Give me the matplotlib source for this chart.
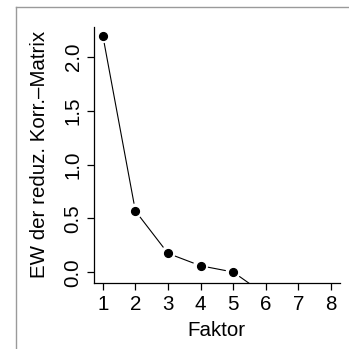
import numpy as np
import matplotlib
matplotlib.use("Agg")
import matplotlib.pyplot as plt
from matplotlib.lines import Line2D

faktor = [1, 2, 3, 4, 5, 6, 7, 8]
eigenwerte = [2.195, 0.569, 0.176, 0.061, 0.003, -0.21, -0.30, -0.40]
xticks = [1, 2, 3, 4, 5, 6, 7, 8]
yticks = [0.0, 0.5, 1.0, 1.5, 2.0]
ytick_labels = ["0.0", "0.5", "1.0", "1.5", "2.0"]

plt.rcParams['font.family'] = ['Liberation Sans', 'DejaVu Sans']

fig = plt.figure(figsize=(3.49, 3.49), dpi=100)
W = H = 349.0
axL, axR, axB, axT = 93.7, 340.0, 282.7, 26.7
ax = fig.add_axes([axL / W, 1 - axB / H, (axR - axL) / W, (axB - axT) / H])
ax.set_xlim(0.72, 8.28)
ax.set_ylim(-0.096, 2.278)

for s in ['top', 'right']:
    ax.spines[s].set_visible(False)
for s in ['left', 'bottom']:
    ax.spines[s].set_linewidth(0.9)

fs = 14.8
ax.set_xticks(xticks)
ax.set_xticklabels([str(v) for v in xticks])
ax.set_yticks(yticks)
ax.set_yticklabels(ytick_labels, rotation=90, va='center')
ax.tick_params(axis='both', length=5, width=0.9, labelsize=fs)
ax.tick_params(axis='x', pad=3.5)
ax.tick_params(axis='y', pad=3)
ax.set_xlabel("Faktor", fontsize=fs, va='center')
ax.set_ylabel("EW der reduz. Korr.\u2013Matrix", fontsize=fs, va='center')
ax.xaxis.set_label_coords(((axL + axR) / 2 - axL + 0) / (axR - axL) - 0.0, -(330 - axB) / (axB - axT))
ax.yaxis.set_label_coords(-(axL - 40) / (axR - axL), 0.5 + ((axB + axT) / 2 - 149.5) / (axB - axT) * 0)

# points
ax.plot(faktor, eigenwerte, 'o', color='black', markersize=5.6, zorder=3, clip_on=True)

# R type="b" line segments with gaps near the points (computed in display space)
fig.canvas.draw()
pts = ax.transData.transform(np.column_stack([faktor, eigenwerte]))
gap = 8.0  # pixels
inv = ax.transData.inverted()
for i in range(len(pts) - 1):
    p0, p1 = pts[i], pts[i + 1]
    d = p1 - p0
    L = np.hypot(*d)
    if L <= 2 * gap:
        continue
    u = d / L
    a = inv.transform(p0 + u * gap)
    b = inv.transform(p1 - u * gap)
    ax.add_line(Line2D([a[0], b[0]], [a[1], b[1]], color='black', linewidth=0.8, zorder=2))

# outer gray frame lines
fig.add_artist(Line2D([15.5 / W, 15.5 / W], [0, 1 - 7 / H], color='#9a9a9a', linewidth=1.0, transform=fig.transFigure))
fig.add_artist(Line2D([15.5 / W, 1], [1 - 7 / H, 1 - 7 / H], color='#9a9a9a', linewidth=1.0, transform=fig.transFigure))

fig.savefig("out.png", dpi=100)
